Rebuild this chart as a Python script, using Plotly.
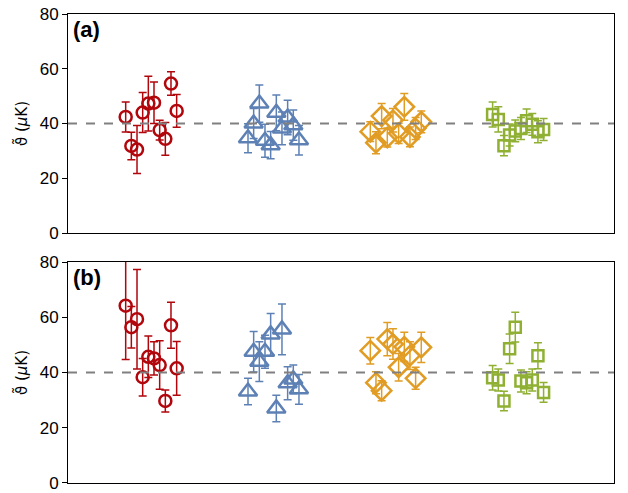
import plotly.graph_objects as go
from plotly.subplots import make_subplots

# ---- data: panel (a) ----
a_red = [42.4, 31.8, 30.5, 44.0, 47.3, 47.6, 37.6, 34.4, 54.6, 44.6]
a_red_err = [5.5, 5.0, 8.8, 7.3, 10.0, 7.6, 3.6, 6.0, 4.3, 6.0]
a_blue = [34.6, 40.0, 47.3, 33.7, 32.1, 43.9, 38.2, 42.2, 39.4, 33.9]
a_blue_err = [5.3, 5.5, 6.8, 6.0, 5.0, 6.5, 6.0, 6.3, 5.5, 5.4]
a_orange = [37.0, 33.0, 42.7, 34.9, 41.2, 36.4, 46.1, 35.1, 38.2, 40.6]
a_orange_err = [3.6, 4.0, 4.6, 3.5, 4.3, 3.7, 4.9, 3.6, 4.0, 4.0]
a_green = [43.3, 41.5, 31.9, 35.8, 37.3, 38.2, 41.0, 39.7, 37.0, 37.8]
a_green_err = [4.6, 4.6, 3.7, 4.0, 4.0, 4.0, 4.3, 4.0, 4.0, 4.0]

# ---- data: panel (b) ----
b_red = [64.2, 56.4, 59.3, 38.3, 45.7, 45.1, 42.7, 29.7, 57.1, 41.5]
b_red_err = [19.5, 7.5, 18.0, 6.8, 7.5, 6.0, 8.8, 4.0, 8.3, 9.7]
b_blue = [33.1, 47.5, 43.9, 47.5, 53.8, 27.0, 55.6, 36.1, 37.5, 33.9]
b_blue_err = [4.8, 7.3, 7.2, 6.0, 7.6, 4.8, 9.2, 6.0, 5.2, 5.4]
b_orange = [47.9, 36.3, 33.4, 52.1, 50.3, 41.9, 49.3, 46.1, 37.9, 49.1]
b_orange_err = [4.8, 4.0, 3.6, 6.0, 5.5, 5.0, 5.3, 5.0, 4.0, 5.5]
b_green = [38.1, 37.3, 29.7, 48.6, 56.4, 36.9, 36.3, 37.3, 46.1, 32.8]
b_green_err = [4.4, 4.0, 3.5, 5.3, 5.4, 4.0, 4.0, 4.0, 4.7, 3.6]

reference_value = 40
y_ticks = [0, 20, 40, 60, 80]
panel_labels = ["(a)", "(b)"]
y_title = "ϑ̃ (<i>μ</i>K)"

colors = ["#b0060c", "#5e81b5", "#e19c24", "#8fb032"]
symbols = ["circle-open", "triangle-up-open", "diamond-open", "square-open"]
msizes = [12, 16, 15, 11]

fig = make_subplots(rows=2, cols=1, vertical_spacing=0.062)

panels = [
    [(a_red, a_red_err), (a_blue, a_blue_err), (a_orange, a_orange_err), (a_green, a_green_err)],
    [(b_red, b_red_err), (b_blue, b_blue_err), (b_orange, b_orange_err), (b_green, b_green_err)],
]

step = 0.0463
for r, groups in enumerate(panels, start=1):
    for g, (vals, errs) in enumerate(groups):
        n = len(vals)
        xs = [g + 1 + (i - (n - 1) / 2) * step for i in range(n)]
        fig.add_trace(go.Scatter(
            x=xs, y=vals, mode="markers",
            marker=dict(symbol=symbols[g], size=msizes[g], color=colors[g],
                        line=dict(width=2.5, color=colors[g])),
            error_y=dict(type="data", array=errs, visible=True,
                         color=colors[g], thickness=1.5, width=4),
            showlegend=False, cliponaxis=True,
        ), row=r, col=1)
    fig.add_hline(y=reference_value, line=dict(color="#808080", width=2, dash="dash"),
                  row=r, col=1)

axis_common = dict(showline=True, linecolor="black", linewidth=1, mirror=True,
                   showgrid=False, zeroline=False, automargin=False)
for r in (1, 2):
    fig.update_xaxes(range=[0.32, 4.784], showticklabels=False, ticks="",
                     row=r, col=1, **axis_common)
    fig.update_yaxes(range=[0, 80], tickvals=y_ticks, ticks="outside", ticklen=5,
                     ticklabeloverflow="allow",
                     tickcolor="black", tickfont=dict(size=17, color="black",
                                                      family="Liberation Sans, Arial"),
                     title=dict(text=y_title, font=dict(size=15, color="black",
                                                        family="DejaVu Sans"),
                                standoff=8),
                     row=r, col=1, **axis_common)

fig.update_layout(
    width=628, height=493,
    margin=dict(l=68, r=14, t=14, b=10, autoexpand=False),
    plot_bgcolor="white", paper_bgcolor="white",
)
fig.layout.yaxis.domain = [0.533, 1.0]
fig.layout.yaxis2.domain = [0.0, 0.4712]

for i, lab in enumerate(panel_labels):
    yref = "y domain" if i == 0 else "y2 domain"
    fig.add_annotation(text=f"<b>{lab}</b>", xref="x domain" if i == 0 else "x2 domain",
                       yref=yref, x=0.005, y=0.995, xanchor="left", yanchor="top",
                       showarrow=False, font=dict(size=22, color="black",
                                                  family="Liberation Sans, Arial"))

# remove the page's default body margin so the figure fills the window exactly
fig.write_html("out.html", config={"displayModeBar": False},
               post_script="document.body.style.margin='0px';")
